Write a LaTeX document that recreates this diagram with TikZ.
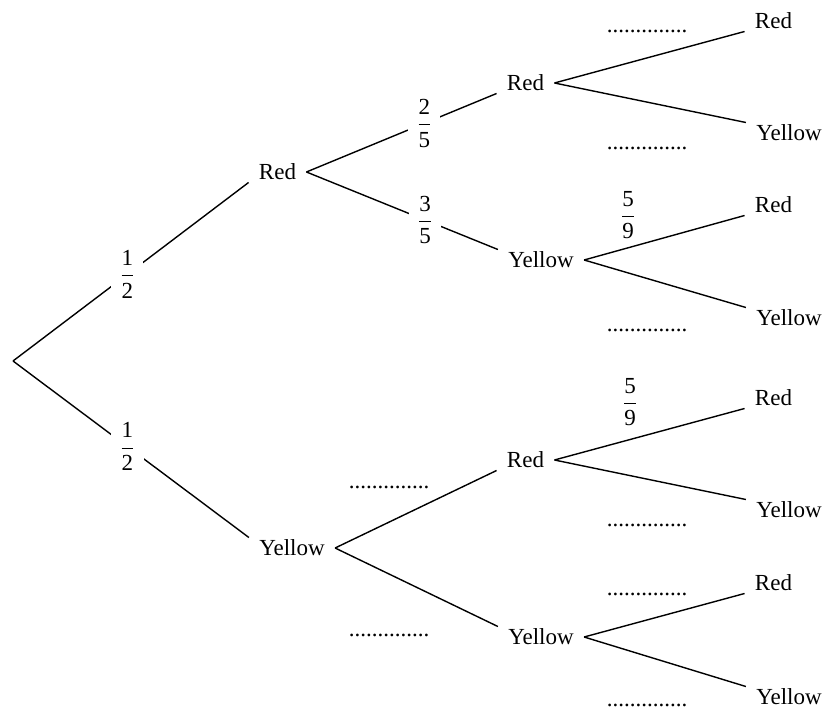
\documentclass[tikz,border=0pt]{standalone}
\usepackage{fontspec}
\setmainfont{Liberation Serif}
\usepackage{amsmath}
\tikzset{
	leaf/.style={font=\fontsize{11.5}{14}\selectfont, inner xsep=5pt, inner ysep=1pt},
	prob/.style={font=\fontsize{11.5}{14}\selectfont, fill=white, inner xsep=4pt, inner ysep=1pt},
	blank/.style={font=\fontsize{11.5}{14}\selectfont, anchor=base, inner sep=0pt},
	branch/.style={line width=0.7pt}
}
\newcommand{\pfrac}[2]{$\dfrac{\text{#1}}{\text{#2}}$}

\begin{document}
\begin{tikzpicture}[x=0.5pt, y=-0.5pt]
		\useasboundingbox (0,0) rectangle (828,710);
		\coordinate (root) at (13,361);
		\node[leaf] (r1) at (277.5,172) {Red};
		\node[leaf] (y1) at (292,548) {Yellow};
		\node[leaf] (r2) at (525.5,83) {Red};
		\node[leaf] (y2) at (541,260) {Yellow};
		\node[leaf] (r2b) at (525.5,460) {Red};
		\node[leaf] (y2b) at (541,637) {Yellow};
		\node[leaf] (r3a) at (773.5,21) {Red};
		\node[leaf] (y3a) at (789,133) {Yellow};
		\node[leaf] (r3b) at (773.5,205) {Red};
		\node[leaf] (y3b) at (789,318) {Yellow};
		\node[leaf] (r3c) at (773.5,398) {Red};
		\node[leaf] (y3c) at (789,510) {Yellow};
		\node[leaf] (r3d) at (773.5,583) {Red};
		\node[leaf] (y3d) at (789,697) {Yellow};
		\draw[branch] (root) -- (r1.south west) node[prob, pos=0.485] (p1) {\pfrac{1}{2}};
		\draw[branch] (root) -- (y1.north west) node[prob, pos=0.485] (p2) {\pfrac{1}{2}};
		\draw[branch] (r1.east) -- (r2.south west) node[prob, pos=0.62] (p3) {\pfrac{2}{5}};
		\draw[branch] (r1.east) -- (y2.north west) node[prob, pos=0.62] (p4) {\pfrac{3}{5}};
		\draw[branch] (y1.east) -- (r2b.south west);
		\draw[branch] (y1.east) -- (y2b.north west);
		\draw[branch] (r2.east) -- (r3a.south west);
		\draw[branch] (r2.east) -- (y3a.north west);
		\draw[branch] (y2.east) -- (r3b.south west);
		\draw[branch] (y2.east) -- (y3b.north west);
		\draw[branch] (r2b.east) -- (r3c.south west);
		\draw[branch] (r2b.east) -- (y3c.north west);
		\draw[branch] (y2b.east) -- (r3d.south west);
		\draw[branch] (y2b.east) -- (y3d.north west);
		\node[leaf, inner xsep=0pt] (p5) at (628,215) {\pfrac{5}{9}};
		\node[leaf, inner xsep=0pt] (p6) at (630,402) {\pfrac{5}{9}};
		\foreach \n/\x/\y in {1/647/33, 2/647/150, 3/647/332, 4/647/526, 5/647/595, 6/647/706, 7/389/488, 8/389/636}
			\node[blank] (d\n) at (\x,\y) {..............};
\end{tikzpicture}
\end{document}
